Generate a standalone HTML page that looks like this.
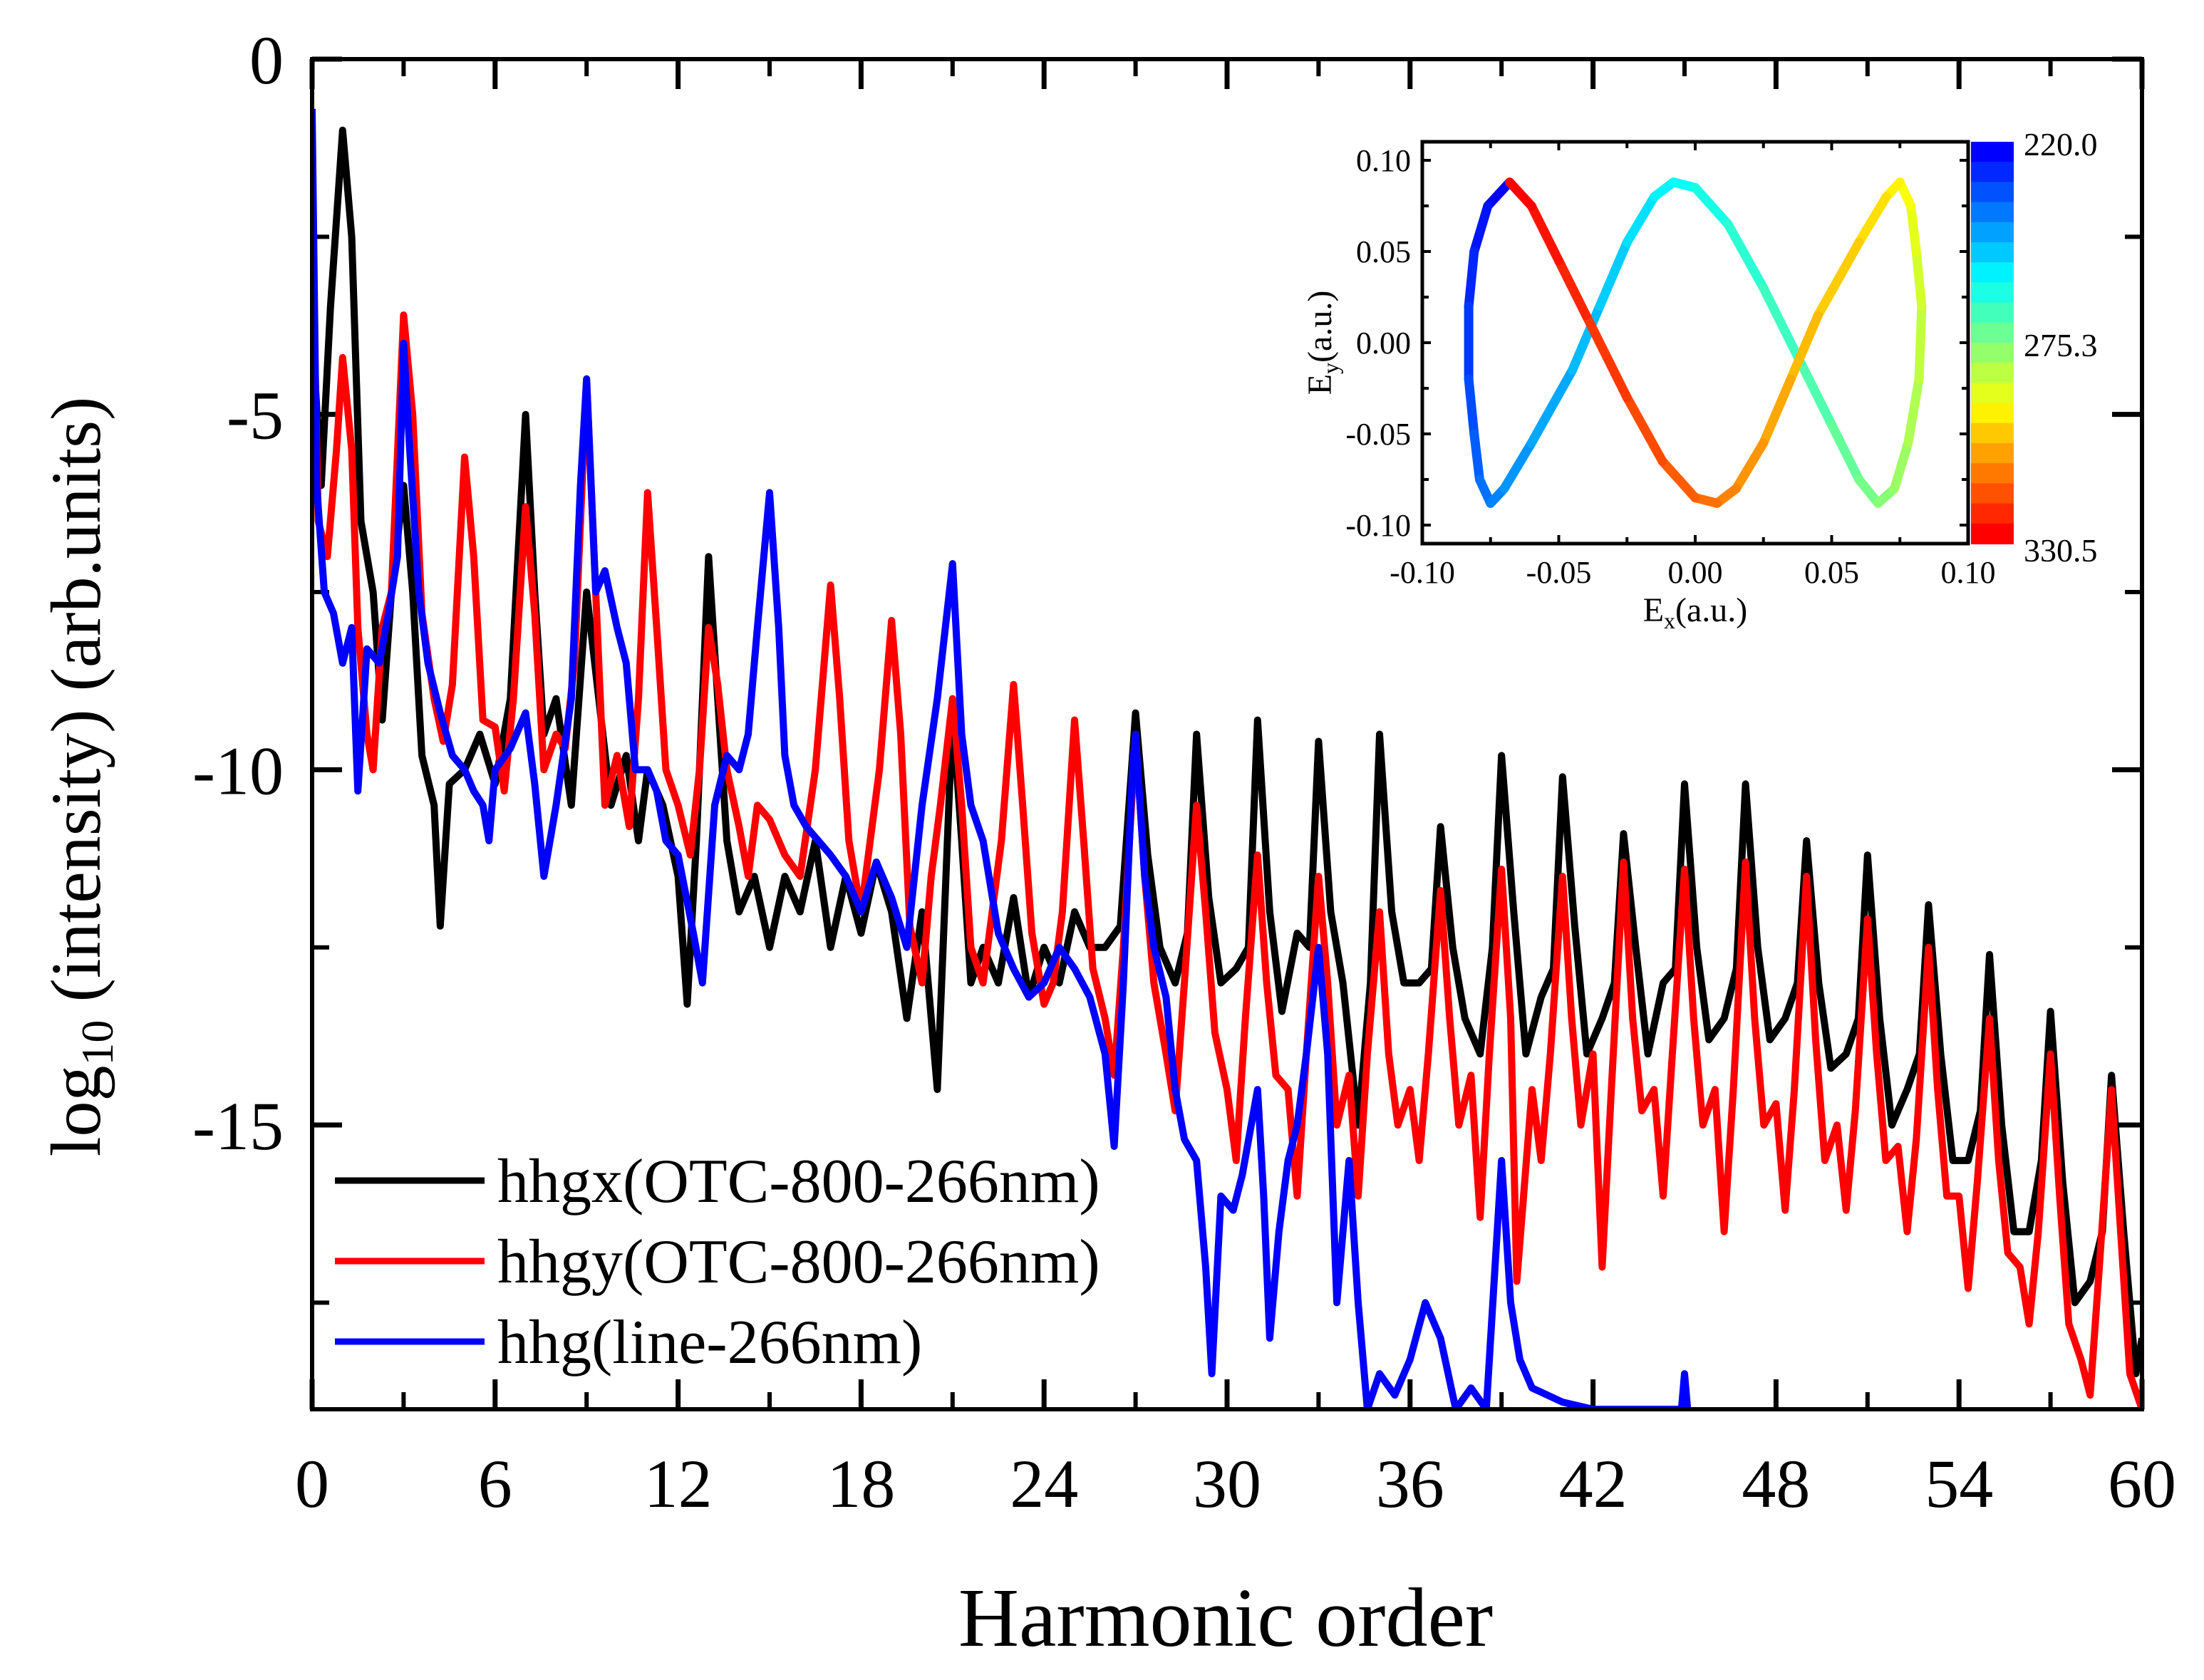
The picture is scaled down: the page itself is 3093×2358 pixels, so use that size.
<!DOCTYPE html>
<html><head><meta charset="utf-8"><style>
html,body{margin:0;padding:0;background:#fff}
svg{display:block}
text{font-family:"Liberation Serif",serif;fill:#000}
</style></head><body>
<svg id="chart" width="3093" height="2358" viewBox="0 0 3093 2358" xmlns="http://www.w3.org/2000/svg">
<defs><clipPath id="clipMain"><rect x="438" y="83" width="2568" height="1895"/></clipPath></defs>
<g id="mainAxes"></g>
<g id="series" clip-path="url(#clipMain)"></g>
<rect x="438" y="83" width="2568" height="1895" fill="none" stroke="#000" stroke-width="6"/>
<g id="legend"></g>
<g id="inset"></g>
<text x="1720" y="2310" font-size="118" text-anchor="middle">Harmonic order</text>
<text transform="translate(140,1090) rotate(-90)" font-size="100" text-anchor="middle">log<tspan font-size="64" dy="18">10</tspan><tspan dy="-18"> (intensity) (arb.units)</tspan></text>
</svg>
<script>
const NS='http://www.w3.org/2000/svg';
// ---- data ----
const xTicks=[0,6,12,18,24,30,36,42,48,54,60];
const yTicks=[0,-5,-10,-15];
const blackX=[0,0.3,0.6,1,1.3,1.6,2,2.3,2.6,3,3.3,3.6,4,4.2,4.5,5,5.5,6,6.5,7,7.3,7.6,8,8.5,9,9.4,9.8,10.3,10.7,11,11.5,12,12.3,12.6,13,13.3,13.6,14,14.5,15,15.5,16,16.5,17,17.5,18,18.5,19,19.5,20,20.5,21,21.3,21.6,22,22.5,23,23.5,24,24.5,25,25.5,26,26.5,27,27.4,27.8,28.3,28.7,29,29.4,29.8,30.3,30.7,31,31.4,31.8,32.3,32.7,33,33.4,33.8,34.3,34.7,35,35.4,35.8,36.3,36.7,37,37.4,37.8,38.3,38.7,39,39.4,39.8,40.3,40.7,41,41.4,41.8,42.3,42.7,43,43.4,43.8,44.3,44.7,45,45.4,45.8,46.3,46.7,47,47.4,47.8,48.3,48.7,49,49.4,49.8,50.3,50.7,51,51.4,51.8,52.3,52.7,53,53.4,53.8,54.3,54.7,55,55.4,55.8,56.3,56.7,57,57.4,57.8,58.3,58.7,59,59.4,59.8,60];
const blackY=[-3.8,-6,-3.5,-1,-2.5,-6.5,-7.5,-9.3,-7.5,-6,-7.5,-9.8,-10.5,-12.2,-10.2,-10,-9.5,-10.2,-9,-5,-7.5,-9.5,-9,-10.5,-7.5,-9,-10.5,-9.8,-11,-10,-10.5,-11.5,-13.3,-11,-7,-9,-11,-12,-11.5,-12.5,-11.5,-12,-11,-12.5,-11.5,-12.3,-11.3,-12,-13.5,-12,-14.5,-9.2,-11,-13,-12.5,-13,-11.8,-13.2,-12.5,-13,-12,-12.5,-12.5,-12.2,-9.2,-11.2,-12.5,-13,-12.3,-9.5,-11.8,-13,-12.8,-12.5,-9.3,-12,-13.4,-12.3,-12.5,-9.6,-12,-13,-15,-13,-9.5,-12,-13,-13,-12.8,-10.8,-12.5,-13.5,-14,-12.5,-9.8,-12,-14,-13.2,-12.8,-10.1,-12.2,-14,-13.5,-13,-10.9,-12.5,-14,-13,-12.8,-10.2,-12.5,-13.8,-13.5,-12.8,-10.2,-12.5,-13.8,-13.5,-13,-11,-13,-14.2,-14,-13.5,-11.2,-13.5,-15,-14.5,-14,-11.9,-14,-15.5,-15.5,-14.8,-12.6,-15,-16.5,-16.5,-15.5,-13.4,-15.8,-17.5,-17.2,-16.5,-14.3,-16.5,-18.5,-18];
const redX=[0,0.2,0.5,0.8,1,1.3,1.5,1.8,2,2.3,2.6,3,3.3,3.6,4,4.3,4.6,5,5.3,5.6,6,6.3,6.6,7,7.3,7.6,8,8.3,8.6,9,9.3,9.6,10,10.4,10.7,11,11.3,11.6,12,12.4,12.7,13,13.3,13.6,14,14.3,14.6,15,15.5,16,16.5,17,17.3,17.6,18,18.3,18.6,19,19.3,19.6,20,20.3,20.6,21,21.3,21.6,22,22.3,22.6,23,23.3,23.6,24,24.3,24.6,25,25.3,25.6,26,26.3,26.6,27,27.3,27.6,28,28.3,28.6,29,29.3,29.6,30,30.3,30.6,31,31.3,31.6,32,32.3,32.6,33,33.3,33.6,34,34.3,34.6,35,35.3,35.6,36,36.3,36.6,37,37.3,37.6,38,38.3,38.6,39,39.3,39.5,40,40.3,40.6,41,41.3,41.6,42,42.3,42.6,43,43.3,43.6,44,44.3,44.6,45,45.3,45.6,46,46.3,46.6,47,47.3,47.6,48,48.3,48.6,49,49.3,49.6,50,50.3,50.6,51,51.3,51.6,52,52.3,52.6,53,53.3,53.6,54,54.3,54.6,55,55.3,55.6,56,56.3,56.6,57,57.3,57.6,58,58.3,58.6,59,59.3,59.6,60];
const redY=[-2.2,-6.5,-7,-5.5,-4.2,-5.5,-8,-9.5,-10,-8,-7.5,-3.6,-5,-7.8,-9,-9.6,-8.8,-5.6,-7,-9.3,-9.4,-10.3,-9,-6.3,-7.8,-10,-9.5,-9.7,-8.5,-4.5,-7.5,-10.5,-9.8,-10.8,-9,-6.1,-8,-10,-10.5,-11.2,-10,-8,-8.8,-10,-10.8,-11.5,-10.5,-10.7,-11.2,-11.5,-10,-7.4,-9,-11,-12,-11,-10,-7.9,-9.5,-12.2,-13,-11.5,-10.5,-9,-10.5,-12.5,-13,-12,-11,-8.8,-10.5,-12.3,-13.3,-13,-12,-9.3,-11,-12.8,-13.5,-14.3,-12.5,-9.5,-11.5,-13,-14,-14.8,-13,-10.5,-12,-13.7,-14.5,-15.5,-13.5,-11.2,-13,-14.3,-14.5,-16,-14,-11.5,-13,-15,-14.3,-16,-14,-12,-14,-15,-14.5,-15.5,-14,-11.7,-13.5,-15,-14.3,-16.3,-14,-11.4,-13.5,-17.2,-14.5,-15.5,-14,-11.5,-13.5,-15,-14,-17,-14.5,-11.3,-13.5,-14.8,-14.5,-16,-14,-11.4,-13.5,-15,-14.5,-16.5,-14.5,-11.3,-13.5,-15,-14.7,-16.2,-14.5,-11.5,-13.8,-15.5,-15,-16.2,-14.8,-12.1,-14,-15.5,-15.3,-16.5,-15.2,-12.5,-14.5,-16,-16,-17.3,-15.8,-13.5,-15.5,-16.8,-17,-17.8,-16.5,-14,-16,-17.8,-18.3,-18.8,-17,-14.5,-16.5,-18.5,-19];
const blueX=[0,0.15,0.4,0.7,1,1.3,1.5,1.8,2.2,2.5,2.8,3,3.2,3.5,3.8,4.2,4.6,5,5.3,5.6,5.8,6,6.5,7,7.3,7.6,8,8.5,8.8,9,9.3,9.6,10,10.3,10.6,11,11.3,11.6,12,12.5,12.8,13.2,13.6,14,14.3,14.6,15,15.3,15.5,15.8,16.2,16.6,17,17.5,18,18.5,19,19.5,20,20.5,21,21.3,21.6,22,22.5,23,23.5,24,24.5,25,25.5,26,26.3,26.6,26.9,27,27.3,27.6,28,28.3,28.6,29,29.3,29.5,29.8,30.2,30.5,31,31.2,31.4,31.7,32,32.3,32.6,33,33.3,33.6,34,34.3,34.6,35,35.5,36,36.5,37,37.5,38,38.5,39,39.3,39.6,40,41,42,43,44,44.9,45,45.1];
const blueY=[-0.7,-6,-7.5,-7.8,-8.5,-8,-10.3,-8.3,-8.5,-7.8,-7,-4,-5.5,-7.5,-8.5,-9.2,-9.8,-10,-10.3,-10.5,-11,-10,-9.7,-9.2,-10.2,-11.5,-10.5,-9,-6,-4.5,-7.5,-7.2,-8,-8.5,-10,-10,-10.3,-11,-11.2,-12.3,-13,-10.5,-9.8,-10,-9.5,-8,-6.1,-8,-9.8,-10.5,-10.8,-11,-11.2,-11.5,-12,-11.3,-11.8,-12.5,-10.5,-9,-7.1,-9.5,-10.5,-11,-12.3,-12.8,-13.2,-13,-12.5,-12.8,-13.2,-14,-15.3,-13,-10,-9.5,-11.5,-12.5,-13.2,-14.5,-15.2,-15.5,-17,-18.5,-16,-16.2,-15.7,-14.5,-16,-18,-16.5,-15.5,-15,-14,-12.5,-14,-17.5,-15.5,-17.5,-19,-18.5,-18.8,-18.3,-17.5,-18,-19,-18.7,-19,-15.5,-17.5,-18.3,-18.7,-18.9,-19,-19,-19,-19,-18.5,-19];
const legendLabels=['hhgx(OTC-800-266nm)','hhgy(OTC-800-266nm)','hhg(line-266nm)'];
const legendColors=['#000000','#ff0000','#0000ff'];
// inset data
const exVals=[-0.068,-0.076,-0.081,-0.083,-0.083,-0.081,-0.079,-0.075,-0.07,-0.06,-0.045,-0.035,-0.025,-0.015,-0.008,0.0,0.012,0.025,0.04,0.05,0.06,0.067,0.073,0.078,0.082,0.083,0.081,0.079,0.075,0.07,0.06,0.045,0.035,0.025,0.015,0.008,0.0,-0.012,-0.025,-0.04,-0.05,-0.06,-0.068];
const eyVals=[0.088,0.075,0.05,0.02,-0.02,-0.05,-0.075,-0.088,-0.08,-0.055,-0.015,0.02,0.055,0.08,0.088,0.085,0.065,0.03,-0.015,-0.045,-0.075,-0.088,-0.08,-0.055,-0.02,0.02,0.05,0.075,0.088,0.08,0.055,0.015,-0.02,-0.055,-0.08,-0.088,-0.085,-0.065,-0.03,0.015,0.045,0.075,0.088];
const insetTicks=[-0.10,-0.05,0.00,0.05,0.10];
const cbLabels=['220.0','275.3','330.5'];
// ---- scales ----
const L=438,R=3006,T=83,B=1978;
const xs=v=>L+(v-0)/(60-0)*(R-L);
const ys=v=>T+(0-v)/(0-(-19))*(B-T);
function el(tag,attrs,parent){const e=document.createElementNS(NS,tag);for(const k in attrs)e.setAttribute(k,attrs[k]);parent.appendChild(e);return e;}
const ax=document.getElementById('mainAxes');
xTicks.forEach((t,i)=>{
  const x=xs(t);
  let tk=el('line',{x1:x,y1:T,x2:x,y2:T+42,stroke:'#000','stroke-width':7},ax);
  
  let tb=el('line',{x1:x,y1:B,x2:x,y2:B-42,stroke:'#000','stroke-width':7},ax);
  
  if(i<xTicks.length-1){const m=xs(t+3);
    let a=el('line',{x1:m,y1:T,x2:m,y2:T+24,stroke:'#000','stroke-width':6},ax);
    
    let b=el('line',{x1:m,y1:B,x2:m,y2:B-24,stroke:'#000','stroke-width':6},ax);
    }
  let lb=el('text',{x:x,y:2115,'font-size':96,'text-anchor':'middle'},ax);lb.textContent=String(t);
  
});
yTicks.forEach(t=>{
  const y=ys(t);
  let a=el('line',{x1:L,y1:y,x2:L+42,y2:y,stroke:'#000','stroke-width':7},ax);
  
  let b=el('line',{x1:R,y1:y,x2:R-42,y2:y,stroke:'#000','stroke-width':7},ax);
  
  const m=ys(t-2.5);
  let c=el('line',{x1:L,y1:m,x2:L+24,y2:m,stroke:'#000','stroke-width':6},ax);
  
  let d=el('line',{x1:R,y1:m,x2:R-24,y2:m,stroke:'#000','stroke-width':6},ax);
  
  let lb=el('text',{x:398,y:y+34,'font-size':96,'text-anchor':'end'},ax);lb.textContent=String(t);
  
});
const sg=document.getElementById('series');
function drawLine(X,Y,color,name){
  const pts=X.map((x,i)=>xs(x).toFixed(1)+','+ys(Y[i]).toFixed(1)).join(' ');
  const p=el('polyline',{points:pts,fill:'none',stroke:color,'stroke-width':10,'stroke-linejoin':'round'},sg);
  
  
}
drawLine(blackX,blackY,'#000000','hhgx-line');
drawLine(redX,redY,'#ff0000','hhgy-line');
drawLine(blueX,blueY,'#0000ff','hhg-line-266');
const lg=document.getElementById('legend');
legendLabels.forEach((s,i)=>{
  const y=1657+i*113;
  const ln=el('line',{x1:470,y1:y,x2:680,y2:y,stroke:legendColors[i],'stroke-width':9},lg);
  
  const tx=el('text',{x:698,y:y+30,'font-size':88},lg);tx.textContent=s;
  
});
// ---- inset ----
const IL=1996,IR=2762,IT=199,IB=763;
const ixs=v=>2379+v/0.1*383;
const iys=v=>481-v/0.1*256;
const ig=document.getElementById('inset');
const bg=el('rect',{x:IL,y:IT,width:IR-IL,height:IB-IT,fill:'#fff'},ig);

function jet(f){ // f: 0 blue -> 1 red
  const r=Math.max(0,Math.min(1,1.5-Math.abs(4*f-3)));
  const g=Math.max(0,Math.min(1,1.5-Math.abs(4*f-2)));
  const b=Math.max(0,Math.min(1,1.5-Math.abs(4*f-1)));
  return 'rgb('+Math.round(r*255)+','+Math.round(g*255)+','+Math.round(b*255)+')';
}
const N=exVals.length;
for(let i=0;i<N-1;i++){
  const f=0.125+0.75*(i/(N-2));
  const s=el('line',{x1:ixs(exVals[i]),y1:iys(eyVals[i]),x2:ixs(exVals[i+1]),y2:iys(eyVals[i+1]),stroke:jet(f),'stroke-width':13,'stroke-linecap':'round'},ig);
  
  
}
const fr=el('rect',{x:IL,y:IT,width:IR-IL,height:IB-IT,fill:'none',stroke:'#000','stroke-width':5},ig);

for(let k=0;k<=8;k++){
  const v=-0.1+k*0.025, x=ixs(v), y=iys(v), len=(k%2==0)?12:9;
  let a=el('line',{x1:x,y1:IB,x2:x,y2:IB-len,stroke:'#000','stroke-width':4},ig);
  let b=el('line',{x1:x,y1:IT,x2:x,y2:IT+len,stroke:'#000','stroke-width':4},ig);
  let c=el('line',{x1:IL,y1:y,x2:IL+len,y2:y,stroke:'#000','stroke-width':4},ig);
  let d=el('line',{x1:IR,y1:y,x2:IR-len,y2:y,stroke:'#000','stroke-width':4},ig);
}
insetTicks.forEach(v=>{
  const lx=el('text',{x:ixs(v),y:818,'font-size':44,'text-anchor':'middle'},ig);lx.textContent=v.toFixed(2);
  
  const ly=el('text',{x:1980,y:iys(v)+15,'font-size':44,'text-anchor':'end'},ig);ly.textContent=v.toFixed(2);
  
});
const exT=el('text',{x:2379,y:872,'font-size':48,'text-anchor':'middle'},ig);
exT.innerHTML='E<tspan font-size="32" dy="10">x</tspan><tspan dy="-10">(a.u.)</tspan>';

const eyT=el('text',{transform:'translate(1868,481) rotate(-90)','font-size':48,'text-anchor':'middle'},ig);
eyT.innerHTML='E<tspan font-size="32" dy="10">y</tspan><tspan dy="-10">(a.u.)</tspan>';

const nb=20,cbH=(IB-IT)/nb;
for(let k=0;k<nb;k++){
  const r=el('rect',{x:2766,y:IT+k*cbH,width:60,height:cbH+1,fill:jet(0.125+0.75*k/(nb-1))},ig);
  
}
cbLabels.forEach((s,i)=>{
  const t=el('text',{x:2840,y:[218,500,788][i],'font-size':46},ig);t.textContent=s;
  
});
</script>
</body></html>
